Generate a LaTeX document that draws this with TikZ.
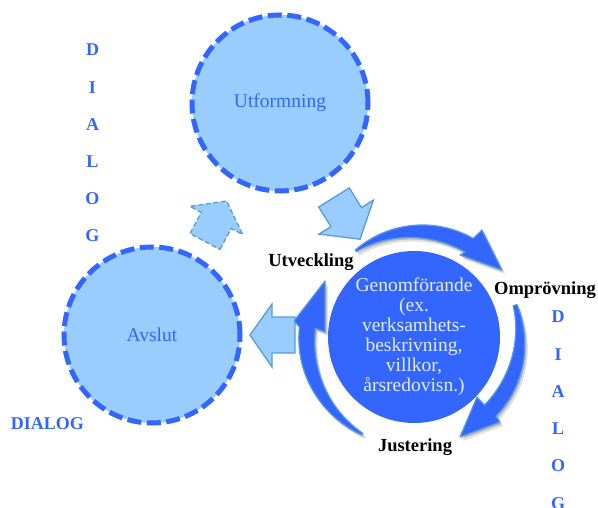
\documentclass[tikz,border=0pt]{standalone}
\usepackage{fontspec}
\setmainfont{Liberation Serif}
\usetikzlibrary{shadows}
\definecolor{deepblue}{HTML}{3366FF}
\definecolor{paleblue}{HTML}{99CCFF}
\definecolor{edgeblue}{HTML}{5B9BD5}
\definecolor{lighttext}{HTML}{E4ECFF}

\begin{document}
\begin{tikzpicture}[x=1pt,y=-1pt,
  phase/.style={circle, minimum size=176pt, inner sep=0pt, fill=paleblue,
    draw=deepblue, line width=5pt, dash pattern=on 14pt off 5.5pt,
    text=deepblue, font=\fontsize{19.5}{20}\selectfont},
  core/.style={circle, minimum size=172pt, inner sep=0pt, fill=deepblue,
    text=lighttext, align=center, font=\fontsize{19.5}{20}\selectfont},
  steplabel/.style={font=\bfseries\fontsize{18.5}{20}\selectfont, text=black},
  dialog/.style={font=\bfseries\fontsize{18}{20}\selectfont, text=deepblue, anchor=base, inner sep=0pt},
  blockarrow/.style={fill=paleblue, draw=edgeblue, line width=1.3pt, line join=miter},
  cyclearrow/.style={fill=deepblue, draw=edgeblue, line width=1.2pt, line join=round,
    drop shadow={shadow xshift=3pt, shadow yshift=-4pt, opacity=0.12, fill=black},
    drop shadow={shadow xshift=1.5pt, shadow yshift=-2pt, opacity=0.18, fill=black}}
]
\useasboundingbox (0,0) rectangle (598,508);

% block arrows between the phases
\path[blockarrow] (349.3,188) -- (361.5,207.6) -- (373.4,200.1) -- (360,239.2)
  -- (319,234.1) -- (330.9,226.6) -- (318.7,207) -- cycle;
\path[blockarrow, dash pattern=on 5pt off 2.5pt]
  (220,249.5) -- (231.3,228.4) -- (242.7,234.5) -- (226.6,201)
  -- (189.9,206.3) -- (201.3,212.4) -- (190,233.5) -- cycle;
\path[blockarrow] (250,335) -- (272,304) -- (272,317) -- (295,317)
  -- (295,353) -- (272,353) -- (272,367) -- cycle;

% phases
\node[phase] (design) at (280,103) {Utformning};
\node[phase] (closing) at (152,335) {Avslut};
\node[core] (exec) at (414,337) {Genomförande\\(ex.\\verksamhets-\\beskrivning,\\villkor,\\årsredovisn.)};

% cycle arrows around the core (centre 414,337)
\path[cyclearrow]
  plot[domain=0:1, samples=40, variable=\t]
    ({414+(105+3*\t+7*sin(90*\t))*cos(124-65*\t)}, {337-(105+3*\t+7*sin(90*\t))*sin(124-65*\t)})
  -- (482,230) -- (502,270) -- (460,255)
  -- plot[domain=0:1, samples=40, variable=\s]
    ({414+(103+3*(1-\s)-7*sin(90*(1-\s)))*cos(124-65*(1-\s))}, {337-(103+3*(1-\s)-7*sin(90*(1-\s)))*sin(124-65*(1-\s))})
  -- cycle;

\path[cyclearrow]
  plot[domain=0:1, samples=40, variable=\t]
    ({414+(108+6*sin(90*\t))*cos(17.5-61.5*\t)}, {337-(108+6*sin(90*\t))*sin(17.5-61.5*\t)})
  -- (500,422) -- (460,437) -- (477,397)
  -- plot[domain=0:1, samples=40, variable=\s]
    ({414+(104-6*sin(90*(1-\s)))*cos(17.5-61.5*(1-\s))}, {337-(104-6*sin(90*(1-\s)))*sin(17.5-61.5*(1-\s))})
  -- cycle;

\path[cyclearrow]
  plot[domain=0:1, samples=40, variable=\t]
    ({414+(111-3*\t+7*sin(90*\t))*cos(242-67*\t)}, {337-(111-3*\t+7*sin(90*\t))*sin(242-67*\t)})
  -- (294,321) -- (325,281) -- (325,332)
  -- plot[domain=0:1, samples=40, variable=\s]
    ({414+(109-3*(1-\s)-7*sin(90*(1-\s)))*cos(242-67*(1-\s))}, {337-(109-3*(1-\s)-7*sin(90*(1-\s)))*sin(242-67*(1-\s))})
  -- cycle;

% step labels
\node[steplabel] (devel) at (311,262) {Utveckling};
\node[steplabel] (review) at (545,290) {Omprövning};
\node[steplabel] (adjust) at (415,447) {Justering};

% dialogue captions
\foreach \ch [count=\i from 0] in {D,I,A,L,O,G}
  \node[dialog] (dialogL\i) at (92.5,{56+37.2*\i}) {\ch};
\foreach \ch [count=\i from 0] in {D,I,A,L,O,G}
  \node[dialog] (dialogR\i) at (558,{323+37.2*\i}) {\ch};
\node[dialog] (dialogH) at (47.5,429) {DIALOG};
\end{tikzpicture}
\end{document}
